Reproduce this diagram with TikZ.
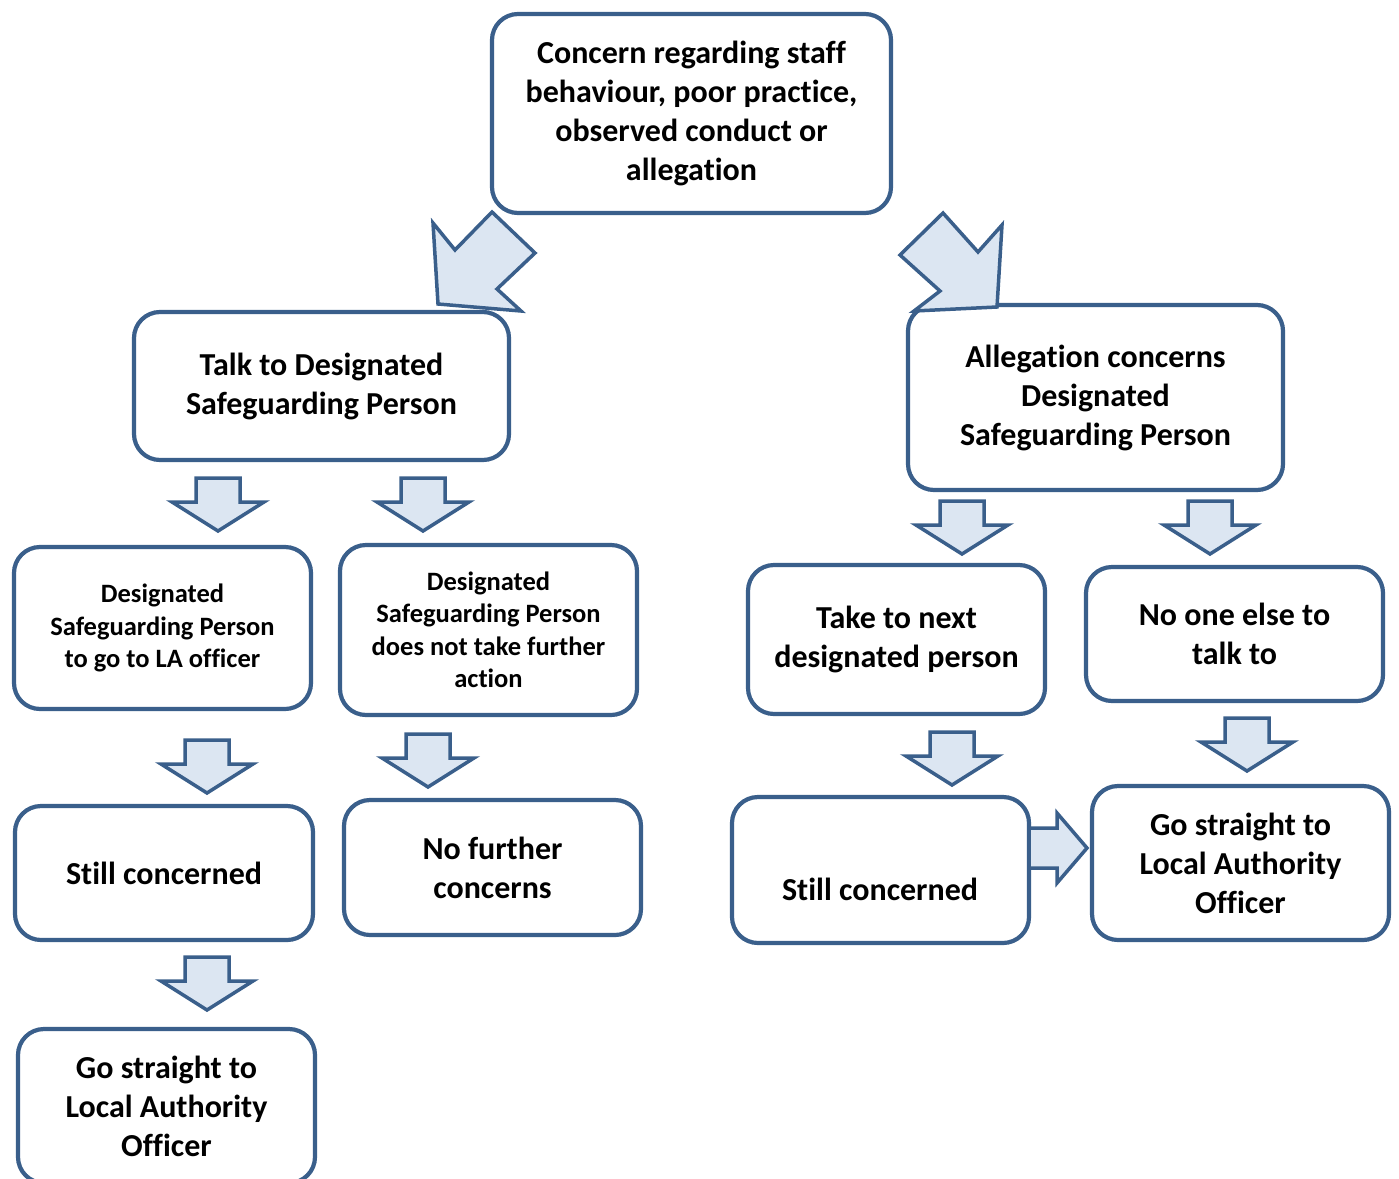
\documentclass[tikz,border=0pt]{standalone}
\usepackage{fontspec}
\setmainfont{Carlito}[Ligatures=NoCommon]
\begin{document}
\begin{tikzpicture}[x=1pt,y=-1pt,
  box/.style={draw=bordc,line width=4.2pt,rounded corners=26pt,fill=white,inner sep=0pt,align=center,
    font=\fontsize{32}{39}\selectfont\bfseries},
  smallbox/.style={box,font=\fontsize{26.5}{32.5}\selectfont\bfseries},
  blockarr/.style={draw=bordc,fill=arrfill,line width=3.5pt,line join=miter},
  downarr/.pic={\draw[blockarr] (-22,0) -- (22,0) -- (22,24) -- (46,24) -- (0,53) -- (-46,24) -- (-22,24) -- cycle;}
]
\definecolor{bordc}{HTML}{3A5F8B}
\definecolor{arrfill}{HTML}{DCE6F2}
\useasboundingbox (0,0) rectangle (1399,1178);
\clip (0,0) rectangle (1399,1178);

\node[box,minimum width=399pt,minimum height=199pt] (b1) at (691.5,113.5)
  {Concern regarding staff\\behaviour, poor practice,\\observed conduct or\\allegation};
\node[box,minimum width=375pt,minimum height=148pt] (b2) at (321.5,386)
  {Talk to Designated\\Safeguarding Person};
\node[box,minimum width=375pt,minimum height=185pt] (b3) at (1095.5,397.5)
  {Allegation concerns\\Designated\\Safeguarding Person};
\node[smallbox,minimum width=297pt,minimum height=162pt] (b4) at (162.5,628)
  {Designated\\Safeguarding Person\\to go to LA officer};
\node[smallbox,minimum width=297pt,minimum height=170pt] (b5) at (488.5,630)
  {Designated\\Safeguarding Person\\does not take further\\action};
\node[box,minimum width=297pt,minimum height=149pt] (b6) at (896.5,639.5)
  {Take to next\\designated person};
\node[box,minimum width=297pt,minimum height=134pt] (b7) at (1234.5,634)
  {No one else to\\talk to};
\node[box,minimum width=298pt,minimum height=134pt] (b8) at (164,873)
  {Still concerned};
\node[box,minimum width=297pt,minimum height=135pt] (b9) at (492.5,867.5)
  {No further\\concerns};
\node[box,minimum width=297pt,minimum height=146pt] (b10) at (880.5,870) {};
\node[font=\fontsize{32}{39}\selectfont\bfseries,inner sep=0pt] (t10) at (880,889) {Still concerned};
\node[box,minimum width=297pt,minimum height=154pt] (b11) at (1240.5,863)
  {Go straight to\\Local Authority\\Officer};
\node[box,minimum width=297pt,minimum height=154pt] (b12) at (166.5,1106)
  {Go straight to\\Local Authority\\Officer};

% diagonal block arrows
\draw[blockarr] (492,212) -- (535,253) -- (497,289) -- (521,311) -- (438,304) -- (433,223) -- (455,250) -- cycle;
\draw[blockarr] (943,213) -- (978,252) -- (1002,225) -- (997,307) -- (914,311) -- (940,291) -- (900,255) -- cycle;

% down block arrows
\pic at (218,478) {downarr};
\pic at (423,478) {downarr};
\pic at (962,501) {downarr};
\pic at (1210,501) {downarr};
\pic at (207,740) {downarr};
\pic at (428,734) {downarr};
\pic at (952,732) {downarr};
\pic at (1247,718) {downarr};
\pic at (207,957) {downarr};

% right block arrow
\draw[blockarr] (b10.east |- 0,828) -- (1057,828) -- (1057,813) -- (1087,848) -- (1057,883) -- (1057,868) -- (b10.east |- 0,868);
\end{tikzpicture}
\end{document}
